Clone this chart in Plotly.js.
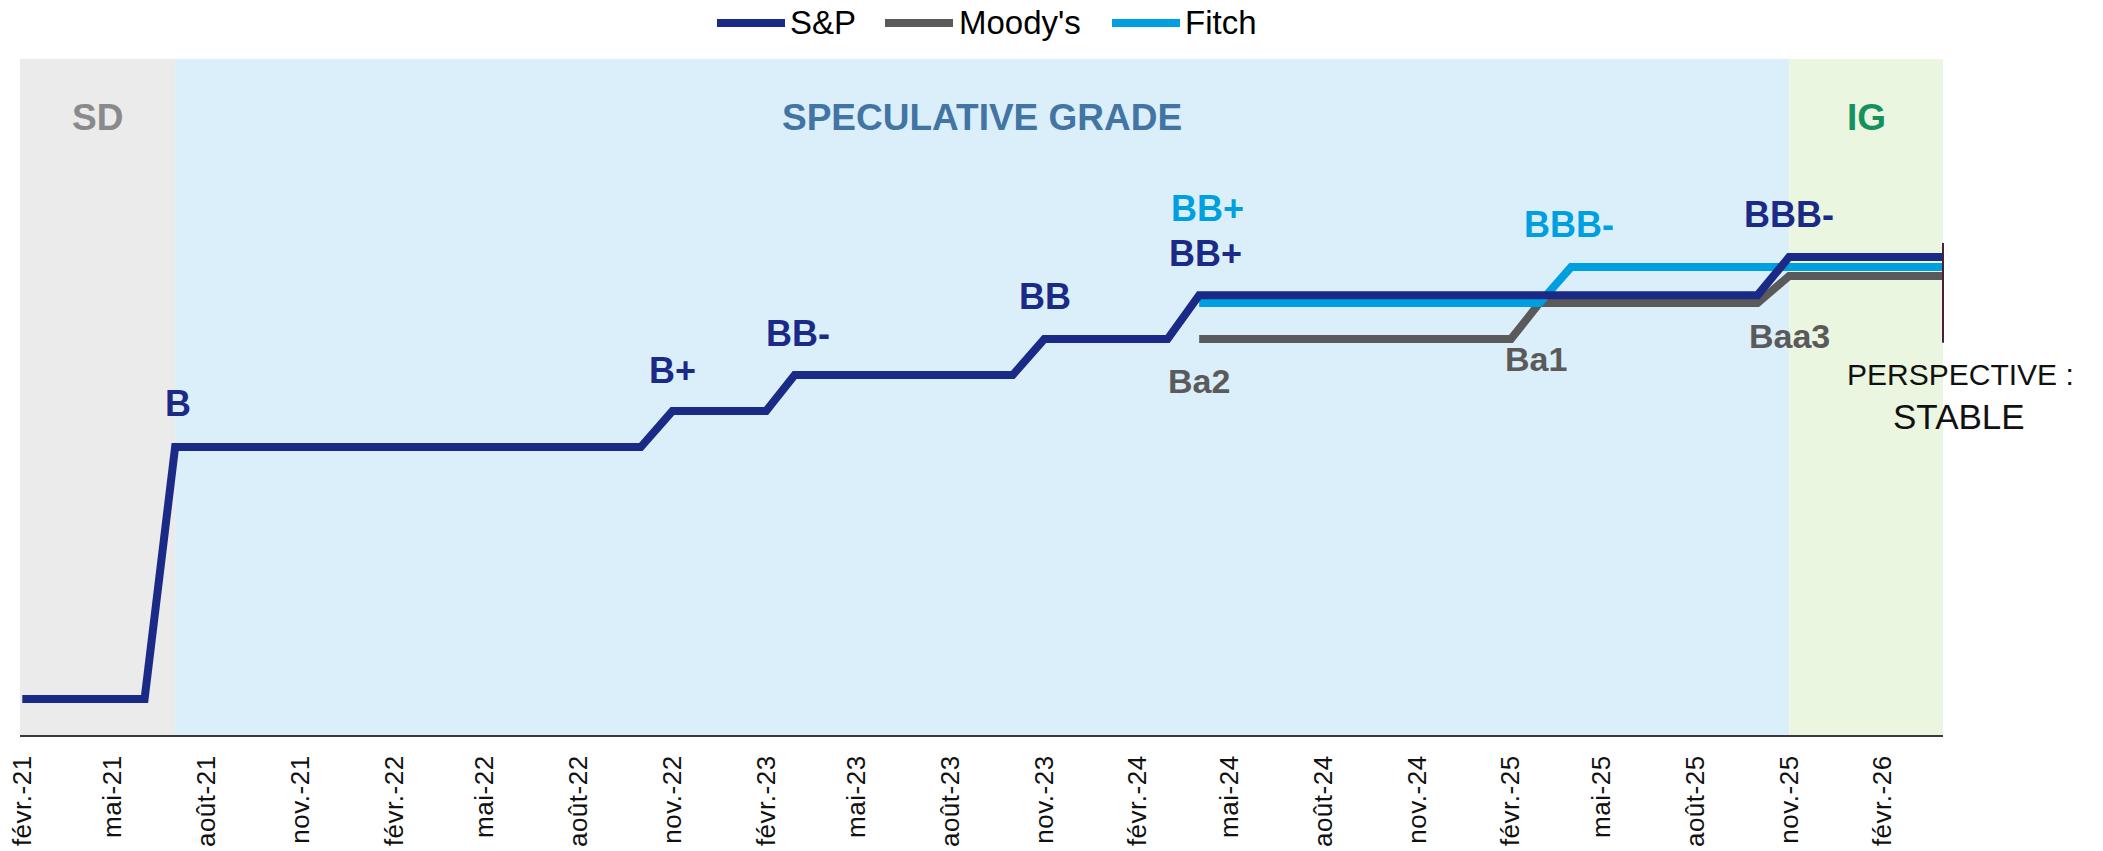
<!DOCTYPE html>
<html><head><meta charset="utf-8">
<script src="https://cdn.plot.ly/plotly-3.0.1.min.js"></script>
<style>html,body{margin:0;padding:0;background:#fff;} #chart{width:2103px;height:851px;}
#chart .xtick text{letter-spacing:0.5px;}</style>
</head><body><div id="chart"></div>
<script>
// ---------- DATA ----------
// Rating scale (notches): SD = 0, B = 7, B+ = 8, BB- = 9, BB = 10, BB+ = 11, BBB- = 12
// (values slightly nudged where the original chart separates overlapping lines)
const seriesNames  = ['S&P', "Moody's", 'Fitch'];
const seriesColors = ['#1b2a86', '#5a5a5a', '#009fe0'];

const spDates  = ['2021-02-01','2021-06-01','2021-07-01','2022-10-01','2022-11-01','2023-02-01','2023-03-01','2023-10-01','2023-11-01','2024-03-01','2024-04-01','2025-10-01','2025-11-01','2026-04-01'];
const spValues = [0, 0, 7, 7, 8, 8, 9, 9, 10, 10, 11.22, 11.22, 12.28, 12.28];

const moodysDates  = ['2024-04-01','2025-02-01','2025-03-01','2025-10-01','2025-11-01','2026-04-01'];
const moodysValues = [10, 10, 11, 11, 11.75, 11.75];

const fitchDates  = ['2024-04-01','2025-03-01','2025-04-01','2026-04-01'];
const fitchValues = [11, 11, 12, 12];

const spLabelText      = ['B','B+','BB-','BB','BB+','BBB-'];
const spLabelDates     = ['2021-07-01','2022-11-01','2023-03-01','2023-11-01','2024-04-01','2025-11-01'];
const moodysLabelText  = ['Ba2','Ba1','Baa3'];
const moodysLabelDates = ['2024-04-01','2025-03-01','2025-11-01'];
const fitchLabelText   = ['BB+','BBB-'];
const fitchLabelDates  = ['2024-04-01','2025-04-01'];

const zoneLabels = ['SD', 'SPECULATIVE GRADE', 'IG'];
const zoneStarts = ['2021-01-29 18:00', '2021-07-01', '2025-11-01'];
const zoneEnds   = ['2021-07-01', '2025-11-01', '2026-04-01'];
const zoneFill   = ['#ebebeb', '#dbeffa', '#eaf6df'];
const zoneText   = ['#8a8a8a', '#4274a4', '#17905f'];

const tickVals = ['2021-02-01','2021-05-01','2021-08-01','2021-11-01','2022-02-01','2022-05-01','2022-08-01','2022-11-01','2023-02-01','2023-05-01','2023-08-01','2023-11-01','2024-02-01','2024-05-01','2024-08-01','2024-11-01','2025-02-01','2025-05-01','2025-08-01','2025-11-01','2026-02-01'];
const tickText = ['févr.-21','mai-21','août-21','nov.-21','févr.-22','mai-22','août-22','nov.-22','févr.-23','mai-23','août-23','nov.-23','févr.-24','mai-24','août-24','nov.-24','févr.-25','mai-25','août-25','nov.-25','févr.-26'];

const outlookText = ['PERSPECTIVE :', 'STABLE'];

// ---------- LAYOUT HELPERS ----------
const W = 2103, H = 851;
const M = {l: 20, r: 160, t: 59, b: 116};
const plotW = W - M.l - M.r, plotH = H - M.t - M.b;
const px2paperX = px => (px - M.l) / plotW;
const px2paperY = py => (H - M.b - py) / plotH;
const FONT = 'Liberation Sans, Arial, Helvetica, sans-serif';

function valueAt(dates, values, d) {
  const i = dates.indexOf(d);
  return values[i];
}
function midDate(a, b) {
  const ta = new Date(a.replace(' ', 'T') + (a.length > 10 ? ':00Z' : 'T00:00:00Z')).getTime();
  const tb = new Date(b + 'T00:00:00Z').getTime();
  return new Date((ta + tb) / 2).toISOString().slice(0, 19).replace('T', ' ');
}

// ---------- TRACES ----------
const traces = [
  {x: moodysDates, y: moodysValues, name: seriesNames[1], mode: 'lines', line: {color: seriesColors[1], width: 8}},
  {x: fitchDates,  y: fitchValues,  name: seriesNames[2], mode: 'lines', line: {color: seriesColors[2], width: 8}},
  {x: spDates,     y: spValues,     name: seriesNames[0], mode: 'lines', line: {color: seriesColors[0], width: 8}}
];

// ---------- SHAPES ----------
const shapes = [];
zoneStarts.forEach((s, i) => {
  shapes.push({type: 'rect', xref: 'x', yref: 'paper', x0: s, x1: zoneEnds[i], y0: 0, y1: 1,
    fillcolor: zoneFill[i], line: {width: 0}, layer: 'below'});
});
// outlook marker at right edge
shapes.push({type: 'line', xref: 'paper', yref: 'y', x0: 1, x1: 1, y0: 9.9, y1: 12.67,
  line: {color: '#4b1f40', width: 2}});

// custom legend
const legLineStart = [717, 885, 1112];
const legTextStart = [788, 957, 1183];
const legY = 23;
seriesNames.forEach((n, i) => {
  shapes.push({type: 'line', xref: 'paper', yref: 'paper',
    x0: px2paperX(legLineStart[i]), x1: px2paperX(legLineStart[i] + 68),
    y0: px2paperY(legY), y1: px2paperY(legY),
    line: {color: seriesColors[i], width: 8}});
});

// ---------- ANNOTATIONS ----------
const annotations = [];
seriesNames.forEach((n, i) => {
  annotations.push({xref: 'paper', yref: 'paper', x: px2paperX(legTextStart[i]), y: px2paperY(legY),
    xanchor: 'left', yanchor: 'middle', text: n, showarrow: false,
    font: {family: FONT, size: 33, color: '#000'}});
});
zoneLabels.forEach((t, i) => {
  annotations.push({xref: 'x', yref: 'paper', x: midDate(zoneStarts[i], zoneEnds[i]), y: px2paperY(118),
    xanchor: 'center', yanchor: 'middle', text: '<b>' + t + '</b>', showarrow: false,
    font: {family: FONT, size: 37, color: zoneText[i]}});
});
const spShift = [[3, 44], [0, 41], [3, 42], [1, 43], [6, 42], [0, 42]];
spLabelText.forEach((t, i) => {
  annotations.push({x: spLabelDates[i], y: valueAt(spDates, spValues, spLabelDates[i]),
    xshift: spShift[i][0], yshift: spShift[i][1], text: '<b>' + t + '</b>', showarrow: false,
    xanchor: 'center', yanchor: 'middle', font: {family: FONT, size: 36, color: seriesColors[0]}});
});
const fiShift = [[8, 95], [-2, 43]];
fitchLabelText.forEach((t, i) => {
  annotations.push({x: fitchLabelDates[i], y: valueAt(fitchDates, fitchValues, fitchLabelDates[i]),
    xshift: fiShift[i][0], yshift: fiShift[i][1], text: '<b>' + t + '</b>', showarrow: false,
    xanchor: 'center', yanchor: 'middle', font: {family: FONT, size: 36, color: seriesColors[2]}});
});
const moShift = [[0, -42], [-4, -56], [0, -60]];
moodysLabelText.forEach((t, i) => {
  annotations.push({x: moodysLabelDates[i], y: valueAt(moodysDates, moodysValues, moodysLabelDates[i]),
    xshift: moShift[i][0], yshift: moShift[i][1], text: '<b>' + t + '</b>', showarrow: false,
    xanchor: 'center', yanchor: 'middle', font: {family: FONT, size: 34, color: seriesColors[1]}});
});
annotations.push({xref: 'paper', yref: 'paper', x: px2paperX(1960), y: px2paperY(374), xanchor: 'center', yanchor: 'middle',
  text: outlookText[0], showarrow: false, font: {family: FONT, size: 30, color: '#111'}});
annotations.push({xref: 'paper', yref: 'paper', x: px2paperX(1959), y: px2paperY(416), xanchor: 'center', yanchor: 'middle',
  text: outlookText[1], showarrow: false, font: {family: FONT, size: 35, color: '#111'}});

// ---------- LAYOUT ----------
const layout = {
  width: W, height: H,
  margin: M,
  paper_bgcolor: '#fff', plot_bgcolor: '#fff',
  showlegend: false,
  xaxis: {
    type: 'date', range: [zoneStarts[0], zoneEnds[2]],
    tickmode: 'array', tickvals: tickVals, ticktext: tickText, tickangle: -90,
    tickfont: {family: FONT, size: 26, color: '#111'},
    ticks: '', ticklabelstandoff: 8,
    showgrid: false, zeroline: false,
    showline: true, linecolor: '#3a3a3a', linewidth: 2
  },
  yaxis: {
    range: [-1, 17.78], showgrid: false, zeroline: false, showticklabels: false, ticks: '', showline: false
  },
  shapes: shapes,
  annotations: annotations
};

Plotly.newPlot('chart', traces, layout, {displayModeBar: false, staticPlot: true});
</script></body></html>
